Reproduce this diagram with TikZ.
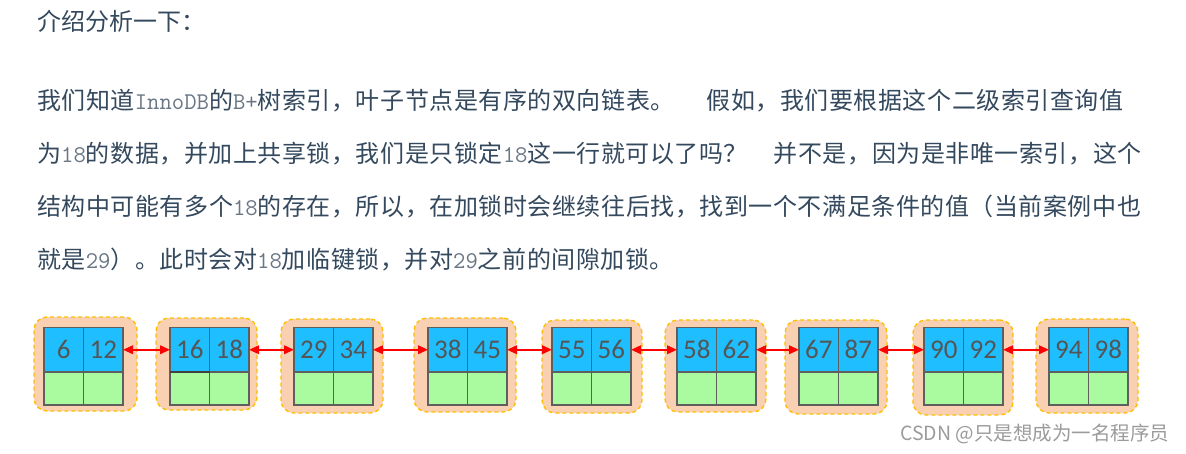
\documentclass[tikz,border=0pt]{standalone}
\usepackage{fontspec}
\newfontfamily\cjk{Noto Sans CJK SC}
\newfontfamily\cjkls[LetterSpace=2.3]{Noto Sans CJK SC}
\newfontfamily\numfont{Carlito}
\usetikzlibrary{arrows.meta,fit}
\definecolor{txt}{RGB}{52,73,94}
\definecolor{codec}{RGB}{105,118,132}
\definecolor{keyblue}{RGB}{30,190,255}
\definecolor{datagreen}{RGB}{170,250,160}
\definecolor{peach}{RGB}{250,208,178}
\definecolor{gold}{RGB}{255,192,0}
\definecolor{cellline}{RGB}{95,95,95}
\definecolor{numc}{RGB}{85,85,85}
\definecolor{wmc}{RGB}{155,155,155}
\newcommand\cd[1]{{\ttfamily\color{codec}#1}}
\begin{document}
\begin{tikzpicture}[x=1pt,y=-1pt,
  para/.style={anchor=base west,inner sep=0pt,text=txt,font=\cjkls\fontsize{24}{24}\selectfont},
  outerbox/.style={inner sep=0pt,fill=peach,draw=gold,line width=1.4pt,dash pattern=on 4pt off 3pt,rounded corners=13pt},
  keycell/.style={anchor=north west,draw=cellline,line width=1.4pt,fill=keyblue,minimum width=39.5pt,minimum height=44.5pt,inner sep=0pt,outer sep=0pt,text=numc,font=\numfont\fontsize{27}{27}\selectfont},
  datacell/.style={anchor=north west,draw=cellline,line width=1.4pt,fill=datagreen,minimum width=39.5pt,minimum height=33pt,inner sep=0pt,outer sep=0pt},
  link/.style={red,line width=2pt,{Triangle[length=10pt,width=8.5pt]}-{Triangle[length=10pt,width=8.5pt]}}
]
\useasboundingbox[fill=white] (0,0) rectangle (1186,453);

\node[para,font=\cjk\fontsize{24}{24}\selectfont] (t0) at (37,30) {介绍分析一下：};
\node[para] (t1) at (37,109) {我们知道\cd{InnoDB}的\cd{B+}树索引，叶子节点是有序的双向链表。\hspace{32pt}假如，我们要根据这个二级索引查询值};
\node[para] (t2) at (37,162) {为\cd{18}的数据，并加上共享锁，我们是只锁定\cd{18}这一行就可以了吗？\hspace{26pt}并不是，因为是非唯一索引，这个};
\node[para] (t3) at (37,215) {结构中可能有多个\cd{18}的存在，所以，在加锁时会继续往后找，找到一个不满足条件的值（当前案例中也};
\node[para] (t4) at (37,268) {就是\cd{29}）。此时会对\cd{18}加临键锁，并对\cd{29}之前的间隙加锁。};

\foreach \i/\L/\a/\b/\ox/\oy/\oX/\oY in {
  1/44/6/12/34/317/137/411,
  2/170/16/18/156/318/257/410,
  3/294/29/34/281/319/383/413,
  4/428/38/45/414/318/516/412,
  5/552/55/56/542/320/642/413,
  6/677/58/62/665/320/766/412,
  7/799/67/87/785/320/887/414,
  8/924/90/92/913/320/1013/415,
  9/1049/94/98/1036/319/1138/413}{
  \node[outerbox,fit={(\ox,\oy) (\oX,\oY)}] (o\i) {};
  \node[keycell] (k\i a) at (\L,327.5) {\a};
  \node[keycell] (k\i b) at (\L+39.5,327.5) {\b};
  \node[datacell] (d\i a) at (\L,372) {};
  \node[datacell] (d\i b) at (\L+39.5,372) {};
}
\draw[line width=2pt,draw=black!75] (d2a.north west) -- (d2a.north east);

\foreach \i/\j in {1/2,2/3,3/4,4/5,5/6,6/7,7/8,8/9}{
  \draw[link] (k\i b.east) -- (k\j a.west);
}

\node[anchor=base west,inner sep=0pt,text=wmc,font=\cjk\fontsize{19.5}{19.5}\selectfont] (wm) at (900,440) {CSDN @只是想成为一名程序员};
\end{tikzpicture}
\end{document}
